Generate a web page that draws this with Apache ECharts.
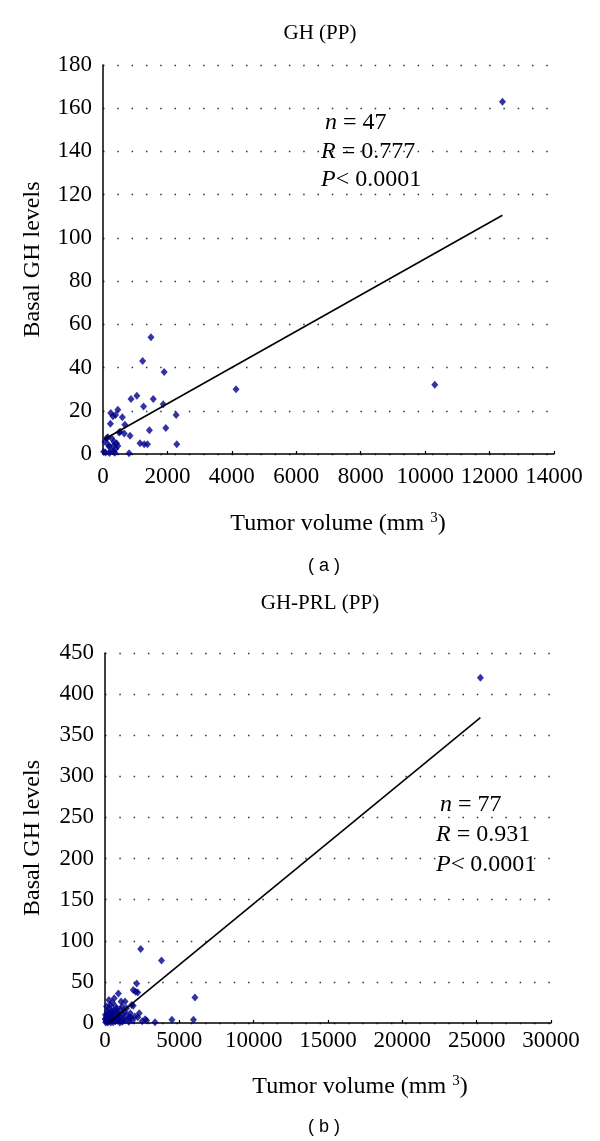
<!DOCTYPE html>
<html>
<head>
<meta charset="utf-8">
<script src="https://cdn.jsdelivr.net/npm/echarts@6/dist/echarts.min.js"></script>
<style>
html,body{margin:0;padding:0;background:#fff;}
#c{width:600px;height:1141px;}
</style>
</head>
<body>
<div id="c"></div>
<script>
// ---- Panel (a): GH (PP) ----
const volA = [1490,1230,1900,4130,870,1050,1560,1260,1870,2270,
              460,240,310,390,600,230,680,500,660,840,
              1440,1950,150,60,1150,1280,1380,2290,340,190,
              320,460,20,80,250,370,810,12400,10300,320,
              420,170,110,270,530,400,200];
const ghA  = [54,43,38,30,25.5,27,25.5,22,23,18,
              20.5,19,17.5,18,17,14,13.5,10,9.5,8.5,
              11,12,7.7,5.7,5,4.5,4.5,4.5,5.7,3.5,
              3.7,3.7,1,0.7,1.5,0.6,0.3,163,32,1,
              5,4.2,7.3,7.3,10.3,2.5,0.5];
const fitA = [[40, 6.8], [12400, 110.5]];
const statsA = ['47', '0.777', '0.0001'];

// ---- Panel (b): GH-PRL (PP) ----
const volB = [25250,2400,3800,2130,1900,2060,2200,900,1080,1350,
              6050,340,1900,790,1010,560,1800,4500,5950,2700,
              3360,2800,1750,2200,200,420,100,650,880,1200,
              1480,1610,120,420,850,1170,1340,1600,60,250,
              300,500,700,150,30,80,180,350,480,600,
              750,950,1050,1300,1450,40,220,380,550,700,
              1000,1850,2000,2500,260,620,100,450,820,1150,
              1250,1700,2300,150,320,900,10];
const ghB  = [420,90,76,48,40,38,37,36,26,26,
              31,22,21,17,16,15,22,4,4,4.5,
              1,3,7,7,12,10,8,8,10,11,
              9,6,2,3.5,2.8,1.6,3,1.5,5,4,
              18,25,20,15,10,3,6,8,6,12,
              4,6,8,14,18,1,1.5,0.5,1,2,
              0.5,3,8,2,28,30,20,14,13,20,
              5,12,12,0.5,11,4,5];
const fitB = [[240, 0.1], [25250, 371.5]];
const statsB = ['77', '0.931', '0.0001'];

const xTicksA = {min: 0, max: 14000, interval: 2000};
const yTicksA = {min: 0, max: 180, interval: 20};
const xTicksB = {min: 0, max: 30000, interval: 5000};
const yTicksB = {min: 0, max: 450, interval: 50};

const SERIF = '"Liberation Serif", "DejaVu Serif", serif';
const SANS = '"Liberation Sans", Arial, sans-serif';

function xAx(idx, t, margin) {
  return {
    type: 'value', gridIndex: idx, min: t.min, max: t.max, interval: t.interval,
    axisLine: {show: true, lineStyle: {color: '#000', width: 1.5}},
    axisTick: {show: true, inside: true, length: 3, lineStyle: {color: '#000', width: 1.2}},
    axisLabel: {color: '#000', fontFamily: SERIF, fontSize: 23, margin: margin, formatter: v => String(v)},
    splitLine: {show: false}
  };
}
function yAx(idx, t, gap) {
  return {
    type: 'value', gridIndex: idx, min: t.min, max: t.max, interval: t.interval,
    name: 'Basal GH levels', nameLocation: 'middle', nameRotate: 90, nameGap: gap,
    nameTextStyle: {color: '#000', fontFamily: SERIF, fontSize: 24},
    axisLine: {show: true, onZero: false, lineStyle: {color: '#000', width: 1.5}},
    axisTick: {show: false},
    axisLabel: {color: '#000', fontFamily: SERIF, fontSize: 23, margin: 11, formatter: v => String(v)},
    splitLine: {show: true, lineStyle: {color: '#333', width: 1.4, type: [1.5, 12.8]}}
  };
}
function pts(xs, ys) { return xs.map((x, i) => [x, ys[i]]); }

function statText(x, y, letter, rel, val) {
  return {
    type: 'text', x: x, y: y,
    style: {
      text: '{i|' + letter + '}{n|' + rel + val + '}',
      verticalAlign: 'middle', align: 'left',
      rich: {
        i: {fontFamily: SERIF, fontSize: 24, fontStyle: 'italic', fill: '#000'},
        n: {fontFamily: SERIF, fontSize: 24, fill: '#000'}
      }
    }
  };
}
function volName(x, y) {
  return {
    type: 'text', x: x, y: y,
    style: {
      text: '{a|Tumor volume (mm }{s|3}{a|)}',
      align: 'center', verticalAlign: 'middle',
      rich: {
        a: {fontFamily: SERIF, fontSize: 24, fill: '#000'},
        s: {fontFamily: SERIF, fontSize: 15, fill: '#000', verticalAlign: 'top', padding: [0, 0, 12, 0]}
      }
    }
  };
}
function plain(x, y, txt, font, size) {
  return {type: 'text', x: x, y: y, style: {text: txt, fontFamily: font, fontSize: size, fill: '#000', align: 'center', verticalAlign: 'middle'}};
}

const chart = echarts.init(document.getElementById('c'));
chart.setOption({
  backgroundColor: '#fff',
  animation: false,
  grid: [
    {left: 103, top: 65, width: 451, height: 389},
    {left: 105, top: 653, width: 446, height: 370}
  ],
  xAxis: [xAx(0, xTicksA, 11), xAx(1, xTicksB, 6)],
  yAxis: [yAx(0, yTicksA, 58), yAx(1, yTicksB, 60)],
  series: [
    {type: 'scatter', xAxisIndex: 0, yAxisIndex: 0, data: pts(volA, ghA), symbol: 'diamond', symbolSize: [7, 8], itemStyle: {color: '#00008B'}},
    {type: 'line', xAxisIndex: 0, yAxisIndex: 0, data: fitA, symbol: 'none', lineStyle: {color: '#000', width: 1.6}},
    {type: 'scatter', xAxisIndex: 1, yAxisIndex: 1, data: pts(volB, ghB), symbol: 'diamond', symbolSize: [7, 8], itemStyle: {color: '#00008B'}},
    {type: 'line', xAxisIndex: 1, yAxisIndex: 1, data: fitB, symbol: 'none', lineStyle: {color: '#000', width: 1.6}}
  ],
  graphic: [
    plain(320, 33, 'GH (PP)', SERIF, 21),
    plain(320, 603, 'GH-PRL (PP)', SERIF, 21),
    statText(325, 123, 'n', ' = ', statsA[0]),
    statText(321, 152, 'R', ' = ', statsA[1]),
    statText(321, 180, 'P', '< ', statsA[2]),
    statText(440, 805, 'n', ' = ', statsB[0]),
    statText(436, 835, 'R', ' = ', statsB[1]),
    statText(436, 865, 'P', '< ', statsB[2]),
    volName(338, 524),
    volName(360, 1087),
    plain(324, 566, '( a )', SANS, 18),
    plain(324, 1127, '( b )', SANS, 18)
  ]
});
</script>
</body>
</html>
